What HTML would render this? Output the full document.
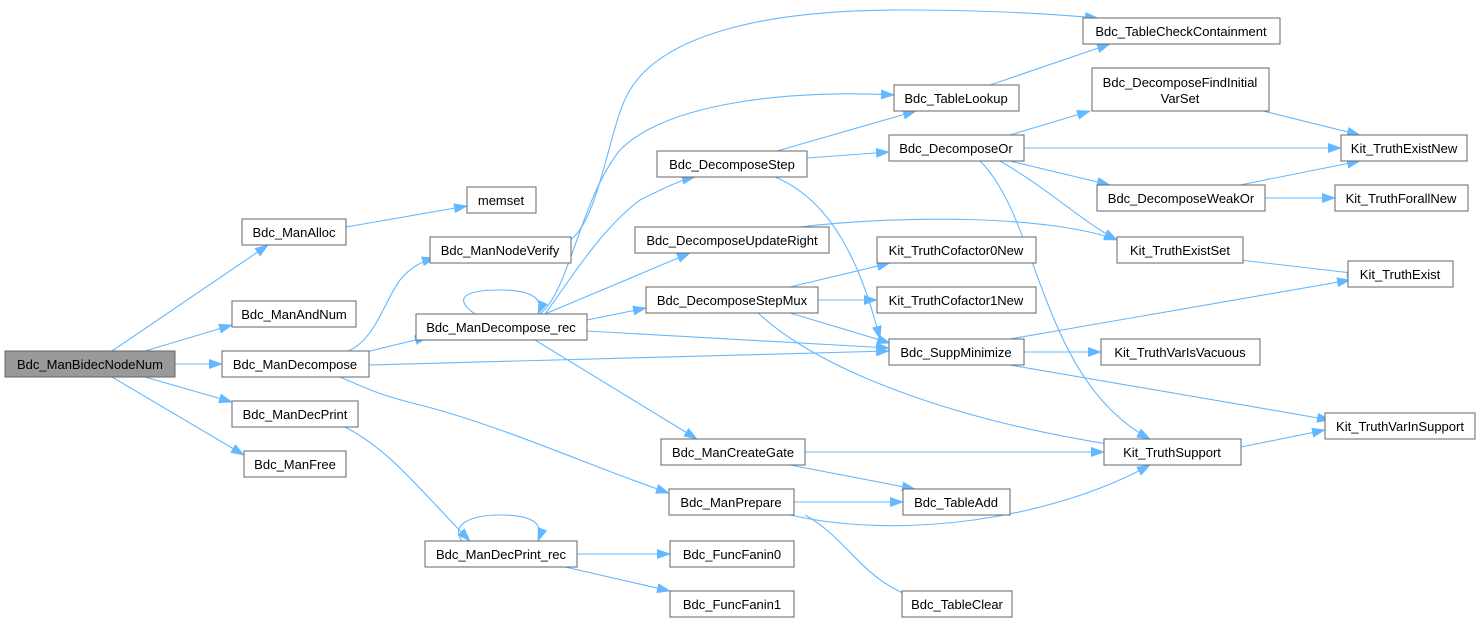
<!DOCTYPE html>
<html><head><meta charset="utf-8"><style>
html,body{margin:0;padding:0;background:#fff}
svg{display:block}
text{font-family:"Liberation Sans",Arial,sans-serif;font-size:13px;fill:#000}
.n{fill:#fff;stroke:#666;stroke-width:1}
.e{fill:none;stroke:#63b8ff;stroke-width:1.1}
</style></head><body>
<svg width="1481" height="623" viewBox="0 0 1481 623" xmlns="http://www.w3.org/2000/svg">
<defs><marker id="a" markerWidth="14" markerHeight="10" refX="13" refY="5" orient="auto" markerUnits="userSpaceOnUse"><path d="M0,0 L14,5 L0,10 z" fill="#63b8ff"/></marker></defs>
<g class="e" marker-end="url(#a)">
<path d="M112,351 L268,245"/>
<path d="M145,351 L232,325"/>
<path d="M175,364 L222,364"/>
<path d="M145,377 L232,402"/>
<path d="M112,377 L244,455"/>
<path d="M346,227 L467,206"/>
<path d="M348,351 C375,340 385,300 400,280 C410,268 420,262 435,258"/>
<path d="M366,352 L428,337"/>
<path d="M369,365 L889,351"/>
<path d="M340,377 C370,390 380,395 420,405 C500,425 600,470 669,493"/>
<path d="M345,427 C390,450 420,490 470,541"/>
<path d="M462,541 C450,525 470,515 500,515 C530,515 545,522 538,541"/>
<path d="M577,554 L670,554"/>
<path d="M565,567 L670,591"/>
<path d="M570,240 C600,220 610,120 630,90 C660,40 750,10 900,10 C1000,10 1060,15 1098,18"/>
<path d="M475,314 C455,300 460,290 500,290 C530,290 545,298 538,314"/>
<path d="M540,314 C570,290 580,200 620,150 C670,100 800,90 894,95"/>
<path d="M545,314 C570,280 600,230 640,200 C660,190 680,180 695,177"/>
<path d="M545,314 L690,253"/>
<path d="M587,320 L646,308"/>
<path d="M587,331 L889,348"/>
<path d="M535,340 L697,439"/>
<path d="M777,151 L916,111"/>
<path d="M807,158 L889,152"/>
<path d="M775,177 C830,200 860,260 880,339"/>
<path d="M800,227 C900,215 1050,215 1117,240"/>
<path d="M790,287 L890,263"/>
<path d="M818,300 L877,300"/>
<path d="M790,313 L890,343"/>
<path d="M758,313 C820,370 950,420 1120,446"/>
<path d="M805,452 L1104,452"/>
<path d="M790,465 L915,489"/>
<path d="M794,502 L903,502"/>
<path d="M790,515 C900,540 1050,520 1150,465"/>
<path d="M805,515 C850,540 860,580 920,600"/>
<path d="M990,85 L1110,44"/>
<path d="M1010,135 L1090,111"/>
<path d="M1024,148 L1341,148"/>
<path d="M1010,161 L1110,185"/>
<path d="M1000,161 C1050,190 1080,220 1117,240"/>
<path d="M980,161 C1040,220 1040,380 1150,439"/>
<path d="M1263,111 L1360,135"/>
<path d="M1240,185 L1360,161"/>
<path d="M1265,198 L1335,198"/>
<path d="M1240,260 L1360,274"/>
<path d="M1010,339 L1350,280"/>
<path d="M1024,352 L1101,352"/>
<path d="M1010,365 L1330,420"/>
<path d="M1241,447 L1325,430"/>
</g>
<g>
<rect x="5" y="351" width="170" height="26" fill="#999" stroke="#666"/><text x="90" y="369" text-anchor="middle">Bdc_ManBidecNodeNum</text>
<rect class="n" x="242" y="219" width="104" height="26"/><text x="294" y="237" text-anchor="middle">Bdc_ManAlloc</text>
<rect class="n" x="467" y="187" width="69" height="26"/><text x="501" y="205" text-anchor="middle">memset</text>
<rect class="n" x="232" y="301" width="124" height="26"/><text x="294" y="319" text-anchor="middle">Bdc_ManAndNum</text>
<rect class="n" x="222" y="351" width="147" height="26"/><text x="295" y="369" text-anchor="middle">Bdc_ManDecompose</text>
<rect class="n" x="232" y="401" width="126" height="26"/><text x="295" y="419" text-anchor="middle">Bdc_ManDecPrint</text>
<rect class="n" x="244" y="451" width="102" height="26"/><text x="295" y="469" text-anchor="middle">Bdc_ManFree</text>
<rect class="n" x="430" y="237" width="141" height="26"/><text x="500" y="255" text-anchor="middle">Bdc_ManNodeVerify</text>
<rect class="n" x="416" y="314" width="171" height="26"/><text x="501" y="332" text-anchor="middle">Bdc_ManDecompose_rec</text>
<rect class="n" x="425" y="541" width="152" height="26"/><text x="501" y="559" text-anchor="middle">Bdc_ManDecPrint_rec</text>
<rect class="n" x="657" y="151" width="150" height="26"/><text x="732" y="169" text-anchor="middle">Bdc_DecomposeStep</text>
<rect class="n" x="635" y="227" width="194" height="26"/><text x="732" y="245" text-anchor="middle">Bdc_DecomposeUpdateRight</text>
<rect class="n" x="646" y="287" width="172" height="26"/><text x="732" y="305" text-anchor="middle">Bdc_DecomposeStepMux</text>
<rect class="n" x="661" y="439" width="144" height="26"/><text x="733" y="457" text-anchor="middle">Bdc_ManCreateGate</text>
<rect class="n" x="669" y="489" width="125" height="26"/><text x="731" y="507" text-anchor="middle">Bdc_ManPrepare</text>
<rect class="n" x="670" y="541" width="124" height="26"/><text x="732" y="559" text-anchor="middle">Bdc_FuncFanin0</text>
<rect class="n" x="670" y="591" width="124" height="26"/><text x="732" y="609" text-anchor="middle">Bdc_FuncFanin1</text>
<rect class="n" x="1083" y="18" width="197" height="26"/><text x="1181" y="36" text-anchor="middle">Bdc_TableCheckContainment</text>
<rect class="n" x="894" y="85" width="125" height="26"/><text x="956" y="103" text-anchor="middle">Bdc_TableLookup</text>
<rect class="n" x="889" y="135" width="135" height="26"/><text x="956" y="153" text-anchor="middle">Bdc_DecomposeOr</text>
<rect class="n" x="877" y="237" width="159" height="26"/><text x="956" y="255" text-anchor="middle">Kit_TruthCofactor0New</text>
<rect class="n" x="877" y="287" width="159" height="26"/><text x="956" y="305" text-anchor="middle">Kit_TruthCofactor1New</text>
<rect class="n" x="889" y="339" width="135" height="26"/><text x="956" y="357" text-anchor="middle">Bdc_SuppMinimize</text>
<rect class="n" x="1104" y="439" width="137" height="26"/><text x="1172" y="457" text-anchor="middle">Kit_TruthSupport</text>
<rect class="n" x="903" y="489" width="107" height="26"/><text x="956" y="507" text-anchor="middle">Bdc_TableAdd</text>
<rect class="n" x="902" y="591" width="110" height="26"/><text x="957" y="609" text-anchor="middle">Bdc_TableClear</text>
<rect class="n" x="1092" y="68" width="177" height="43"/><text x="1180" y="87" text-anchor="middle">Bdc_DecomposeFindInitial</text><text x="1180" y="103" text-anchor="middle">VarSet</text>
<rect class="n" x="1341" y="135" width="126" height="26"/><text x="1404" y="153" text-anchor="middle">Kit_TruthExistNew</text>
<rect class="n" x="1097" y="185" width="168" height="26"/><text x="1181" y="203" text-anchor="middle">Bdc_DecomposeWeakOr</text>
<rect class="n" x="1335" y="185" width="133" height="26"/><text x="1401" y="203" text-anchor="middle">Kit_TruthForallNew</text>
<rect class="n" x="1117" y="237" width="126" height="26"/><text x="1180" y="255" text-anchor="middle">Kit_TruthExistSet</text>
<rect class="n" x="1348" y="261" width="105" height="26"/><text x="1400" y="279" text-anchor="middle">Kit_TruthExist</text>
<rect class="n" x="1101" y="339" width="159" height="26"/><text x="1180" y="357" text-anchor="middle">Kit_TruthVarIsVacuous</text>
<rect class="n" x="1325" y="413" width="150" height="26"/><text x="1400" y="431" text-anchor="middle">Kit_TruthVarInSupport</text>
</g>
</svg>
</body></html>
